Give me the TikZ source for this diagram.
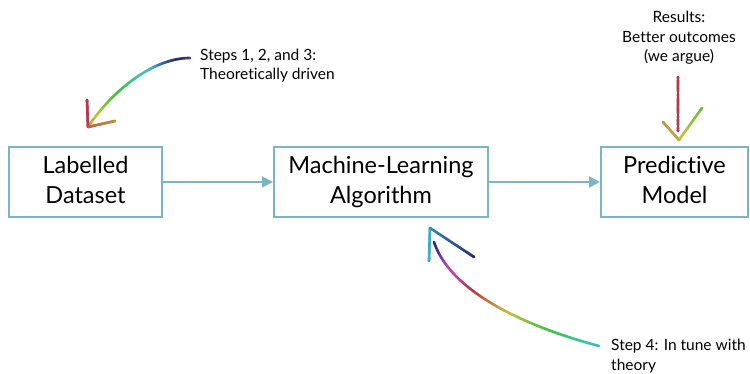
\documentclass[tikz,border=0pt]{standalone}
\usepackage{fontspec}
\setmainfont{Lato}[Ligatures=NoCommon]
\usetikzlibrary{arrows.meta}
\definecolor{boxblue}{RGB}{122,181,199}
\tikzset{
  box/.style={draw=boxblue, line width=2pt, align=center,
    font=\fontsize{23.5}{30}\selectfont, inner sep=0pt, minimum height=70pt},
  flow/.style={draw=boxblue, line width=2pt, -{Triangle[length=11pt,width=11pt]}},
  note/.style={font=\fontsize{15.5}{20}\selectfont, inner sep=0pt},
  rainbow/.style={line width=2.6pt, line cap=round},
}
% rainbow cubic Bezier: (p0)(c1)(c2)(p3){hue expression in \rbt}
\def\rbcurve(#1,#2)(#3,#4)(#5,#6)(#7,#8)#9{%
  \foreach \k in {0,...,49}{%
    \pgfmathsetmacro\rbta{\k/50}%
    \pgfmathsetmacro\rbtb{(\k+1)/50}%
    \pgfmathsetmacro\rbxa{(1-\rbta)^3*#1+3*(1-\rbta)^2*\rbta*#3+3*(1-\rbta)*\rbta^2*#5+\rbta^3*#7}%
    \pgfmathsetmacro\rbya{(1-\rbta)^3*#2+3*(1-\rbta)^2*\rbta*#4+3*(1-\rbta)*\rbta^2*#6+\rbta^3*#8}%
    \pgfmathsetmacro\rbxb{(1-\rbtb)^3*#1+3*(1-\rbtb)^2*\rbtb*#3+3*(1-\rbtb)*\rbtb^2*#5+\rbtb^3*#7}%
    \pgfmathsetmacro\rbyb{(1-\rbtb)^3*#2+3*(1-\rbtb)^2*\rbtb*#4+3*(1-\rbtb)*\rbtb^2*#6+\rbtb^3*#8}%
    \pgfmathsetmacro\rbt{(\rbta+\rbtb)/2}%
    \pgfmathsetmacro\rbh{mod((#9)+720,360)}%
    \pgfmathsetmacro\rbb{0.76-0.3*max(0,1-abs(\rbh-240)/45)-0.06*max(0,1-abs(\rbh-350)/30)}%
    \definecolor{rbc}{Hsb}{\rbh,0.68,\rbb}%
    \draw[rbc, rainbow] (\rbxa,\rbya) -- (\rbxb,\rbyb);
  }}
\begin{document}
\begin{tikzpicture}[x=1pt,y=-1pt]
\useasboundingbox (0,0) rectangle (750,374);

% boxes
\node[box, minimum width=153pt] (ds) at (85.5,182) {Labelled\\Dataset\vphantom{g}};
\node[box, minimum width=214pt] (ml) at (381,182) {Machine-Learning\\Algorithm};
\node[box, minimum width=147pt] (pm) at (674.5,182) {Predictive\\Model\vphantom{g}};

\draw[flow] (ds) -- (ml);
\draw[flow] (ml) -- (pm);

% annotations
\node[note, anchor=base west] (s13a) at (200,61) {Steps 1, 2, and 3:};
\node[note, anchor=base west] (s13b) at (200,80) {Theoretically driven};
\node[note, anchor=base] (r1) at (679,23) {Results:};
\node[note, anchor=base] (r2) at (679,43) {Better outcomes};
\node[note, anchor=base] (r3) at (679,62) {(we argue)};
\node[note, anchor=base west] (s4a) at (611,350) {Step 4: In tune with};
\node[note, anchor=base west] (s4b) at (611,370) {theory};

% rainbow arrow: steps 1,2,3
\rbcurve(190,58)(150,58)(110,95)(90,124){265-220*\rbt}
\rbcurve(87,100)(87,100)(88,127)(88,127){352}
\rbcurve(88,127)(88,127)(115,121)(115,121){12+25*\rbt}

% results arrow + check
\rbcurve(678,77)(678,77)(678,131)(678,131){347}
\rbcurve(663,122)(663,122)(679,140)(679,140){38+12*\rbt}
\rbcurve(679,140)(679,140)(702,108)(702,108){50+55*\rbt}

% step 4 arrow
\rbcurve(599,346)(520,325)(450,290)(434,242){190-310*\rbt}
\rbcurve(430,228)(430,228)(429,261)(429,261){190}
\rbcurve(430,228)(430,228)(474,257)(474,257){195+45*\rbt}
\end{tikzpicture}
\end{document}
